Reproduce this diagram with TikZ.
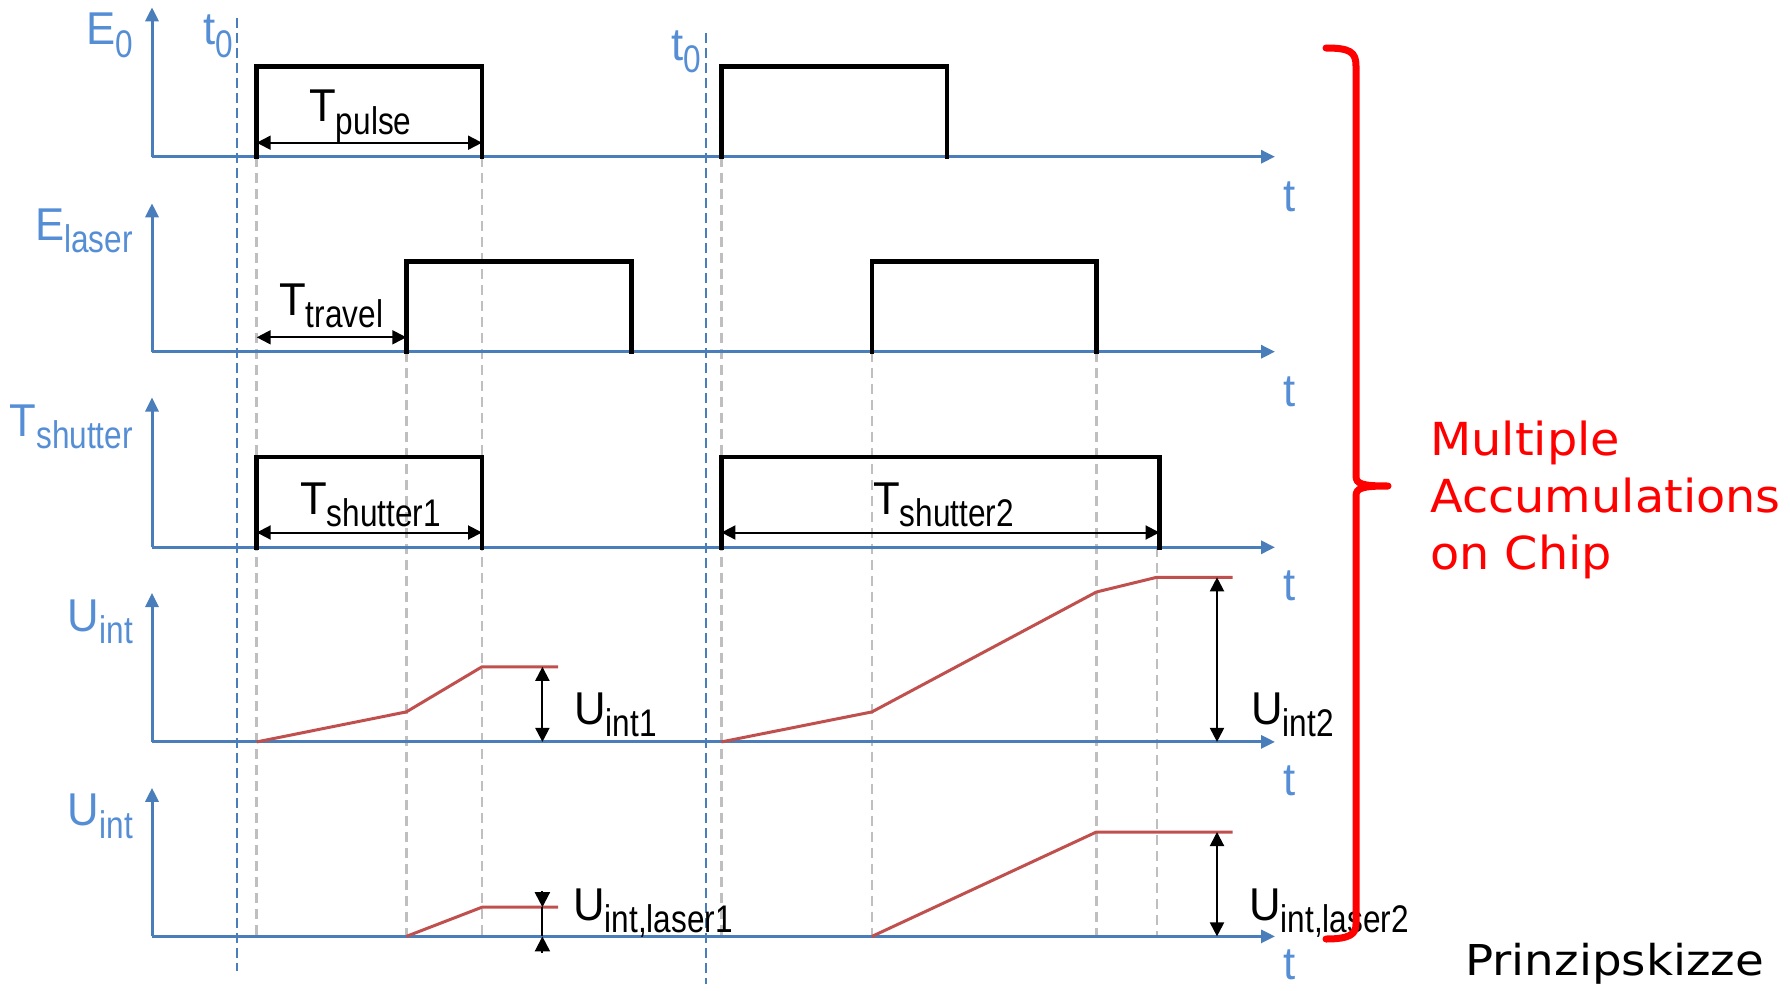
\documentclass[tikz,border=0pt]{standalone}
\usepackage{fontspec}
\usetikzlibrary{arrows.meta}
\newfontfamily\mainsans[FakeStretch=0.95]{Liberation Sans}
\newfontfamily\subsans[FakeStretch=0.82]{Liberation Sans}
\newfontfamily\widesans[FakeStretch=1.05]{DejaVu Sans}
\newfontfamily\widersans[FakeStretch=1.1]{DejaVu Sans}
\definecolor{axisblue}{RGB}{74,126,187}
\definecolor{labelblue}{RGB}{85,142,213}
\definecolor{curvered}{RGB}{192,80,77}
\definecolor{guidegrey}{RGB}{191,191,191}
% symbol with a lowered subscript
\newcommand\sig[2]{{\mainsans\fontsize{46}{50}\selectfont #1}\raisebox{-12.5pt}{\subsans\fontsize{38.5}{40}\selectfont #2}}
\begin{document}
\begin{tikzpicture}[x=1pt,y=-1pt,
  axis/.style={draw=axisblue, line width=3pt, -{Triangle[length=14pt,width=13pt]}},
  startline/.style={draw=axisblue, line width=2pt, dash pattern=on 10pt off 5pt},
  guide/.style={draw=guidegrey, line width=2.8pt, dash pattern=on 10pt off 6pt},
  pulse/.style={draw=black, line width=4.8pt, line join=miter, line cap=rect},
  span/.style={draw=black, line width=2pt, {Triangle[length=14pt,width=14pt]}-{Triangle[length=14pt,width=14pt]}},
  halfspan/.style={draw=black, line width=2pt, -{Triangle[length=15pt,width=15pt]}},
  charge/.style={draw=curvered, line width=3pt, line join=round},
  lab/.style={inner sep=0pt},
  ylab/.style={lab, text=labelblue, anchor=base east},
  tlab/.style={lab, text=labelblue, anchor=base west},
  dlab/.style={lab, text=black, anchor=base west},
  note/.style={inner sep=0pt, anchor=base west, text=red,
    font=\widesans\fontsize{45.5}{57.5}\selectfont}]
\useasboundingbox (0,0) rectangle (1790,990);

% grey guide lines at the switching instants
\draw[guide] (256.7,156.7) -- (256.7,936.4);
\draw[guide] (482,156.7) -- (482,936.4);
\draw[guide] (721.4,156.7) -- (721.4,936.4);
\draw[guide] (406.3,351.7) -- (406.3,936.4);
\draw[guide] (871.9,351.7) -- (871.9,936.4);
\draw[guide] (1096.4,351.7) -- (1096.4,936.4);
\draw[guide] (1157,547.3) -- (1157,936.4);

% start instants t0
\draw[startline] (236.6,18) -- (236.6,971);
\draw[startline] (705.8,33) -- (705.8,984);
\node[tlab] (t0a) at (203,45) {\sig{t}{0}};
\node[tlab] (t0b) at (671,60) {\sig{t}{0}};

% axes
\foreach \y/\tip [count=\i] in {156.7/7.3, 351.7/203.3, 547.3/397.5, 741.9/593, 936.4/787.8}{
  \coordinate (o\i) at (152,\y);
  \draw[axis] (o\i) -- (1275,\y);
  \draw[axis] (o\i) -- (152,\tip);
}
\node[tlab] (ta) at (1283,211) {\mainsans\fontsize{46}{50}\selectfont t};
\node[tlab] (tb) at (1283,406) {\mainsans\fontsize{46}{50}\selectfont t};
\node[tlab] (tc) at (1283,600) {\mainsans\fontsize{46}{50}\selectfont t};
\node[tlab] (td) at (1283,795.6) {\mainsans\fontsize{46}{50}\selectfont t};
\node[tlab] (te) at (1283,979) {\mainsans\fontsize{46}{50}\selectfont t};

\node[ylab] (ye) at (133,45) {\sig{E}{0}};
\node[ylab] (yl) at (133,240) {\sig{E}{laser}};
\node[ylab] (ys) at (133,436) {\sig{T}{shutter}};
\node[ylab] (yu) at (133,631) {\sig{U}{int}};
\node[ylab] (yv) at (133,825.5) {\sig{U}{int}};

% pulses
\draw[pulse] (256.7,156.7) -- (256.7,66.7) -- (482,66.7) -- (482,156.7);
\draw[pulse] (721.4,156.7) -- (721.4,66.7) -- (946.9,66.7) -- (946.9,156.7);
\draw[pulse] (406.3,351.7) -- (406.3,261.7) -- (631.7,261.7) -- (631.7,351.7);
\draw[pulse] (871.9,351.7) -- (871.9,261.7) -- (1096.4,261.7) -- (1096.4,351.7);
\draw[pulse] (256.7,547.3) -- (256.7,457) -- (482,457) -- (482,547.3);
\draw[pulse] (721.4,547.3) -- (721.4,457) -- (1159.5,457) -- (1159.5,547.3);

% durations
\draw[span] (256.7,142.7) -- (482,142.7);
\node[dlab] (tp) at (309,121.7) {\sig{T}{pulse}};
\draw[span] (256.7,337.3) -- (406.3,337.3);
\node[dlab] (tt) at (279,315) {\sig{T}{travel}};
\draw[span] (256.7,532.5) -- (482,532.5);
\node[dlab] (ts1) at (300,514) {\sig{T}{shutter1}};
\draw[span] (721.4,532.5) -- (1159.5,532.5);
\node[dlab] (ts2) at (873,514) {\sig{T}{shutter2}};

% integrated signal
\draw[charge] (256.7,741.9) -- (406.3,711.9) -- (482,666.8) -- (558,666.8);
\draw[charge] (721.4,741.9) -- (871.9,711.9) -- (1096.4,592) -- (1156.7,577.3) -- (1232.6,577.3);
\draw[span] (542.4,666.8) -- (542.4,741.9);
\node[dlab] (u1) at (574,724.4) {\sig{U}{int1}};
\draw[span] (1217,577.3) -- (1217,741.9);
\node[dlab] (u2) at (1251,724.4) {\sig{U}{int2}};

% laser part of the integrated signal
\draw[charge] (406.3,936.4) -- (482,907.2) -- (558,907.2);
\draw[charge] (871.9,936.4) -- (1096.4,832) -- (1232.6,832);
\draw[halfspan] (542.4,891) -- (542.4,907.2);
\draw[black, line width=2pt] (542.4,907.2) -- (542.4,936.4);
\draw[halfspan] (542.4,953) -- (542.4,936.4);
\node[dlab] (ul1) at (573,920) {\sig{U}{int,laser1}};
\draw[span] (1217,832) -- (1217,936.4);
\node[dlab] (ul2) at (1249,920) {\sig{U}{int,laser2}};

% brace and note
\draw[red, line width=7pt, line cap=round, line join=round]
  (1326,48) .. controls (1350,48) and (1356,52) .. (1356,66) -- (1356,476)
  .. controls (1356,484) and (1362,486) .. (1388,486)
  .. controls (1362,486) and (1356,488) .. (1356,496) -- (1356,924)
  .. controls (1356,934) and (1350,939) .. (1326,939);
\node[note] (n1) at (1430,455) {Multiple};
\node[note] (n2) at (1430,512) {Accumulations};
\node[note] (n3) at (1430,569) {on Chip};
\node[inner sep=0pt, anchor=base west, text=black,
  font=\widersans\fontsize{42.5}{50}\selectfont] (sk) at (1465,975) {Prinzipskizze};
\end{tikzpicture}
\end{document}
